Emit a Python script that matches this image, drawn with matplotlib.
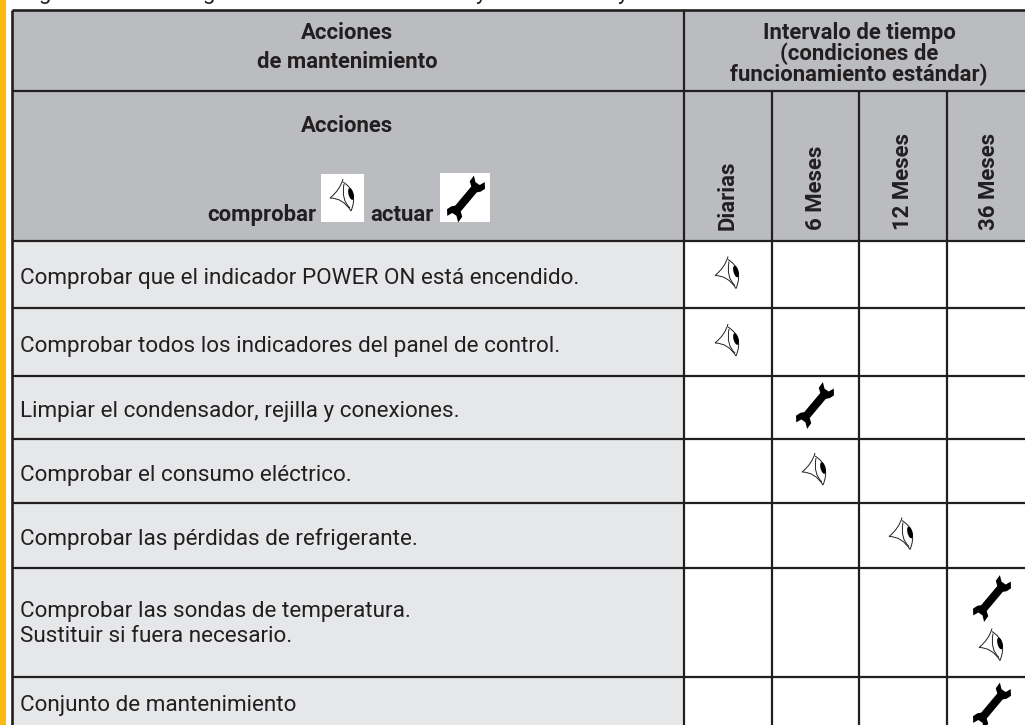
import matplotlib
matplotlib.use('Agg')
import matplotlib.pyplot as plt
import numpy as np
from matplotlib.path import Path
from matplotlib.patches import PathPatch, Rectangle, Ellipse

plt.rcParams['font.family'] = ['Roboto', 'DejaVu Sans']

DARK = '#231F20'
HEADER = '#BBBCC0'
ROW_BG = '#E6E7E9'
ORANGE = '#FDB913'

header_main = ['Acciones', 'de mantenimiento']
header_interval = ['Intervalo de tiempo', '(condiciones de', 'funcionamiento estándar)']
columns = ['Diarias', '6 Meses', '12 Meses', '36 Meses']
actions = [
    'Comprobar que el indicador POWER ON está encendido.',
    'Comprobar todos los indicadores del panel de control.',
    'Limpiar el condensador, rejilla y conexiones.',
    'Comprobar el consumo eléctrico.',
    'Comprobar las pérdidas de refrigerante.',
    'Comprobar las sondas de temperatura.\nSustituir si fuera necesario.',
    'Conjunto de mantenimiento',
]
# row index, column index, icon, offset inside the row
marks = [
    (0, 0, 'eye', 0),
    (1, 0, 'eye', 0),
    (2, 1, 'wrench', 0),
    (3, 1, 'eye', 0),
    (4, 2, 'eye', 0),
    (5, 3, 'wrench', -22),
    (5, 3, 'eye', 24),
    (6, 3, 'wrench', 0),
]
# the line above the table is cut off, only these descenders still show
cut_letters = ['g', 'g', 'y', 'y']
cut_x = [45, 209, 481, 623]

left = 12
split = 684
col_edges = [684, 772, 859, 947, 1035]
top = 10
head_line = 91
row_edges = [241, 308, 376, 439, 503, 568, 677, 740]


def draw_eye(ax, cx, cy, z=5):
    # outline pieces, pixel offsets from the icon centre (y points down)
    pieces = [
        [(2, -16), (-1, -5), (-11, 3)],
        [(-11, 3), (2, 3), (10, 16)],
        [(2, -13), (18, -3), (10, 16)],
        [(3, -11), (0, 5), (9, 13)],
    ]
    for p in pieces:
        path = Path([(cx + a, cy + b) for a, b in p], [Path.MOVETO, Path.CURVE3, Path.CURVE3])
        ax.add_patch(PathPatch(path, fill=False, ec=DARK, lw=0.7, zorder=z))
    ax.add_patch(Ellipse((cx + 10, cy - 1), 5, 12, angle=-15, fc='black', ec='none', zorder=z))


def draw_wrench(ax, cx, cy, z=5):
    # half a wrench along its own axis, second half is the point mirror
    half = [(13, -4), (16, -8.5), (23, -9), (19, -3.5), (19.5, 1.5), (25, 3.5),
            (20, 8), (15, 6.5), (12, 4)]
    pts = half + [(-a, -b) for a, b in half]
    ang = np.radians(-50)
    xy = [(cx + a * np.cos(ang) - b * np.sin(ang), cy + a * np.sin(ang) + b * np.cos(ang)) for a, b in pts]
    ax.add_patch(plt.Polygon(xy, closed=True, fc='black', ec='none', zorder=z))


fig = plt.figure(figsize=(10.25, 7.25), dpi=100)
ax = fig.add_axes([0, 0, 1, 1])
ax.set_xlim(0, 1025)
ax.set_ylim(725, 0)
ax.axis('off')

ax.add_patch(Rectangle((0, 0), 6, 725, fc=ORANGE, ec='none'))
ax.add_patch(Rectangle((left, top), 1100 - left, row_edges[0] - top, fc=HEADER, ec='none'))
ax.add_patch(Rectangle((left, row_edges[0]), split - left, 800, fc=ROW_BG, ec='none'))

for letter, x in zip(cut_letters, cut_x):
    ax.text(x, -1, letter, ha='center', va='baseline', fontsize=16, color=DARK, clip_on=True)

# grid
lw = 1.6
ax.plot([left, 1040], [top, top], color=DARK, lw=1.9, solid_capstyle='butt')
ax.plot([left, 1040], [head_line, head_line], color=DARK, lw=lw, solid_capstyle='butt')
for y in row_edges[:-1]:
    ax.plot([left, 1040], [y, y], color=DARK, lw=lw, solid_capstyle='butt')
ax.plot([left, left], [top, 740], color=DARK, lw=1.9, solid_capstyle='butt')
ax.plot([split, split], [top, 740], color=DARK, lw=lw, solid_capstyle='butt')
for x in col_edges[1:-1]:
    ax.plot([x, x], [head_line, 740], color=DARK, lw=lw, solid_capstyle='butt')

# headers
head = dict(ha='center', va='center', fontsize=15.9, fontweight='bold', color=DARK)
ax.text(347, 33, header_main[0], **head)
ax.text(347, 62, header_main[1], **head)
ax.text(347, 126, header_main[0], **head)
for y, line in zip([33, 54, 75], header_interval):
    ax.text(859, y, line, **head)

# legend row
ax.text(207, 221, 'comprobar', ha='left', va='baseline', fontsize=15.9, fontweight='bold', color=DARK)
ax.text(370, 221, 'actuar', ha='left', va='baseline', fontsize=15.9, fontweight='bold', color=DARK)
ax.add_patch(Rectangle((321, 174), 43, 48, fc='white', ec='none', zorder=3))
ax.add_patch(Rectangle((440, 173), 50, 49, fc='white', ec='none', zorder=3))
draw_eye(ax, 341, 195)
draw_wrench(ax, 466, 199)

for i, name in enumerate(columns):
    xc = (col_edges[i] + col_edges[i + 1]) / 2 if i < 3 else 989
    ax.text(xc, 230, name, rotation=90, ha='center', va='bottom', fontsize=15.9, fontweight='bold', color=DARK)

# rows
for i, text in enumerate(actions):
    yc = (row_edges[i] + row_edges[i + 1]) / 2 + 4
    if i == 5:
        yc -= 2
    if i == 6:
        yc = 706
    ax.text(20, yc, text, ha='left', va='center', fontsize=16.2, color=DARK, linespacing=1.25)

centers = [728, 815, 902, 992]
for r, c, icon, off in marks:
    yc = (row_edges[r] + row_edges[r + 1]) / 2 - 2 + off
    if r == 6:
        yc = 706
    if icon == 'eye':
        draw_eye(ax, centers[c] - 2, yc)
    else:
        draw_wrench(ax, centers[c], yc)

fig.savefig('out.png', dpi=100)
